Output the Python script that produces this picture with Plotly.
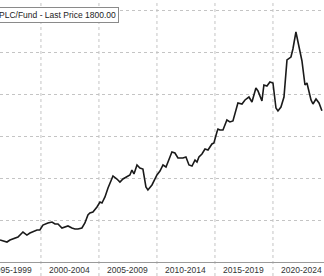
import plotly.graph_objects as go

# Decimal year and price
years = [1996.47, 1996.72, 1997.07, 1997.33, 1997.76, 1998.02, 1998.45, 1998.79, 1999.05, 1999.31,
         1999.66, 1999.91, 2000.17, 2000.60, 2000.95, 2001.21, 2001.47, 2001.81, 2002.07, 2002.33,
         2002.67, 2002.93, 2003.19, 2003.53, 2003.79, 2004.05, 2004.22, 2004.48, 2004.83, 2005.09,
         2005.26, 2005.52, 2005.78, 2006.21, 2006.55, 2006.81, 2007.07, 2007.41, 2007.67, 2007.84,
         2008.02, 2008.28, 2008.53, 2008.79, 2009.05, 2009.22, 2009.57, 2010.00, 2010.26, 2010.52,
         2010.78, 2011.12, 2011.29, 2011.55, 2011.81, 2012.24, 2012.50, 2012.76, 2013.02, 2013.28,
         2013.45, 2013.62, 2013.88, 2014.14, 2014.40, 2014.74, 2014.91, 2015.17, 2015.26, 2015.43,
         2015.69, 2016.03, 2016.29, 2016.55, 2016.81, 2016.98, 2017.33, 2017.59, 2017.93, 2018.19,
         2018.53, 2018.71, 2019.05, 2019.22, 2019.48, 2019.74, 2020.00, 2020.26, 2020.43, 2020.69,
         2020.95, 2021.21, 2021.55, 2021.72, 2021.98, 2022.24, 2022.50, 2022.76, 2022.93, 2023.28,
         2023.45, 2023.71, 2023.97, 2024.22]
prices = [262, 250, 238, 262, 286, 298, 357, 321, 345, 357,
          381, 381, 440, 464, 476, 452, 452, 405, 417, 429,
          405, 393, 393, 405, 464, 560, 583, 595, 655, 714,
          702, 774, 881, 1024, 988, 952, 988, 1012, 1036, 1095,
          1048, 1155, 1119, 1107, 893, 857, 917, 1036, 1083, 1155,
          1131, 1250, 1310, 1298, 1238, 1238, 1250, 1155, 1143, 1214,
          1190, 1250, 1286, 1345, 1333, 1405, 1417, 1548, 1583, 1571,
          1571, 1690, 1667, 1679, 1810, 1893, 1881, 1929, 1964, 1905,
          2071, 2036, 1917, 2107, 2095, 2143, 2131, 1833, 1798, 1845,
          1964, 2405, 2440, 2536, 2738, 2571, 2393, 2107, 2131, 1929,
          1881, 1940, 1893, 1800]

period_starts = [1995, 2000, 2005, 2010, 2015, 2020]
period_labels = ["1995-1999", "2000-2004", "2005-2009", "2010-2014", "2015-2019", "2020-2024"]
legend_text = "PLC/Fund - Last Price 1800.00"

label_pos = [s + 2.5 for s in period_starts]
bounds = period_starts[1:]

fig = go.Figure()
fig.add_trace(go.Scatter(x=years, y=prices, mode="lines",
                         line=dict(color="#1a1a1a", width=1.6), showlegend=False,
                         hoverinfo="skip"))

grid = "#c4c4c4"
fig.update_layout(
    width=324, height=276,
    margin=dict(l=0, r=0, t=0, b=14),
    paper_bgcolor="white", plot_bgcolor="white",
    font=dict(family="Liberation Sans, Arial, sans-serif", size=8.5, color="#333333"),
    xaxis=dict(
        range=[1996.47, 2024.40],
        showticklabels=False, showgrid=False, ticks="", zeroline=False,
        showline=True, linecolor="#9a9a9a", linewidth=1,
    ),
    yaxis=dict(
        range=[0, 3119], dtick=500, tick0=0,
        showgrid=True, griddash="dot", gridcolor=grid, gridwidth=1,
        showticklabels=False, zeroline=False, ticks="",
    ),
)

# vertical period separators (dotted), extending through the label band
for b in bounds:
    fig.add_shape(type="line", xref="x", yref="paper", x0=b, x1=b, y0=-14 / 262, y1=1,
                  line=dict(color=grid, width=1, dash="dot"), layer="below")

# period labels under the axis
for pos, lab in zip(label_pos, period_labels):
    fig.add_annotation(x=pos, y=0, xref="x", yref="paper", yanchor="top", yshift=-1,
                       text=lab, showarrow=False, font=dict(size=8.5, color="#333333"))

fig.add_annotation(
    x=0, y=(262 - 15) / 262, xref="paper", yref="paper",
    xanchor="left", yanchor="middle", xshift=-4,
    text=legend_text, showarrow=False,
    font=dict(size=8.5, color="#222222"),
    bgcolor="white", bordercolor="#8a8a8a", borderwidth=1, borderpad=2,
)

fig.write_html("out.html")
